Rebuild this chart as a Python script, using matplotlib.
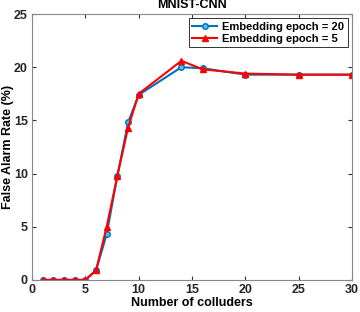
import matplotlib
matplotlib.use("Agg")
import matplotlib.pyplot as plt

colluders = [1, 2, 3, 4, 5, 6, 7, 8, 9, 10, 14, 16, 20, 25, 30]
far_epoch_20 = [0, 0, 0, 0, 0, 0.9, 4.3, 9.8, 14.8, 17.4, 20.0, 19.9, 19.3, 19.3, 19.3]
far_epoch_5 = [0, 0, 0, 0, 0, 0.9, 5.0, 9.8, 14.3, 17.5, 20.6, 19.8, 19.4, 19.3, 19.3]

x_ticks = [0, 5, 10, 15, 20, 25, 30]
y_ticks = [0, 5, 10, 15, 20, 25]

plt.rcParams["font.family"] = ["Liberation Sans", "DejaVu Sans"]
plt.rcParams["font.weight"] = "bold"

fig = plt.figure(figsize=(3.6, 3.12), dpi=100)
ax = fig.add_axes([0.089, 0.103, 0.889, 0.852])

blue = (0.0, 0.447, 0.741)
ax.plot(colluders, far_epoch_20, color=blue, lw=1.5, marker="o", ms=4,
        mfc=(0.3, 0.75, 0.93), mec=blue, mew=1.0, label="Embedding epoch = 20")
ax.plot(colluders, far_epoch_5, color="red", lw=1.5, marker="^", ms=5,
        mfc="red", mec="red", label="Embedding epoch = 5")

ax.set_xlim(0, 30)
ax.set_ylim(0, 25)
ax.set_xticks(x_ticks)
ax.set_yticks(y_ticks)
ax.tick_params(direction="in", length=3, color="#333333", labelsize=9,
               top=True, right=True, labelcolor="#262626", pad=3)
for s in ax.spines.values():
    s.set_color("#888888")
    s.set_linewidth(0.8)

ax.set_xlabel("Number of colluders", fontsize=9, fontweight="bold", labelpad=1)
ax.set_ylabel("False Alarm Rate (%)", fontsize=9, fontweight="bold", labelpad=0)
ax.set_title("MNIST-CNN", fontsize=9, fontweight="bold", pad=4)

leg = ax.legend(loc="upper right", fontsize=8, handlelength=2.2,
                borderpad=0.3, labelspacing=0.2, handletextpad=0.5,
                fancybox=False, framealpha=1, borderaxespad=0.4)
leg.get_frame().set_edgecolor("#333333")
leg.get_frame().set_linewidth(0.7)

fig.savefig("out.png", dpi=100)
